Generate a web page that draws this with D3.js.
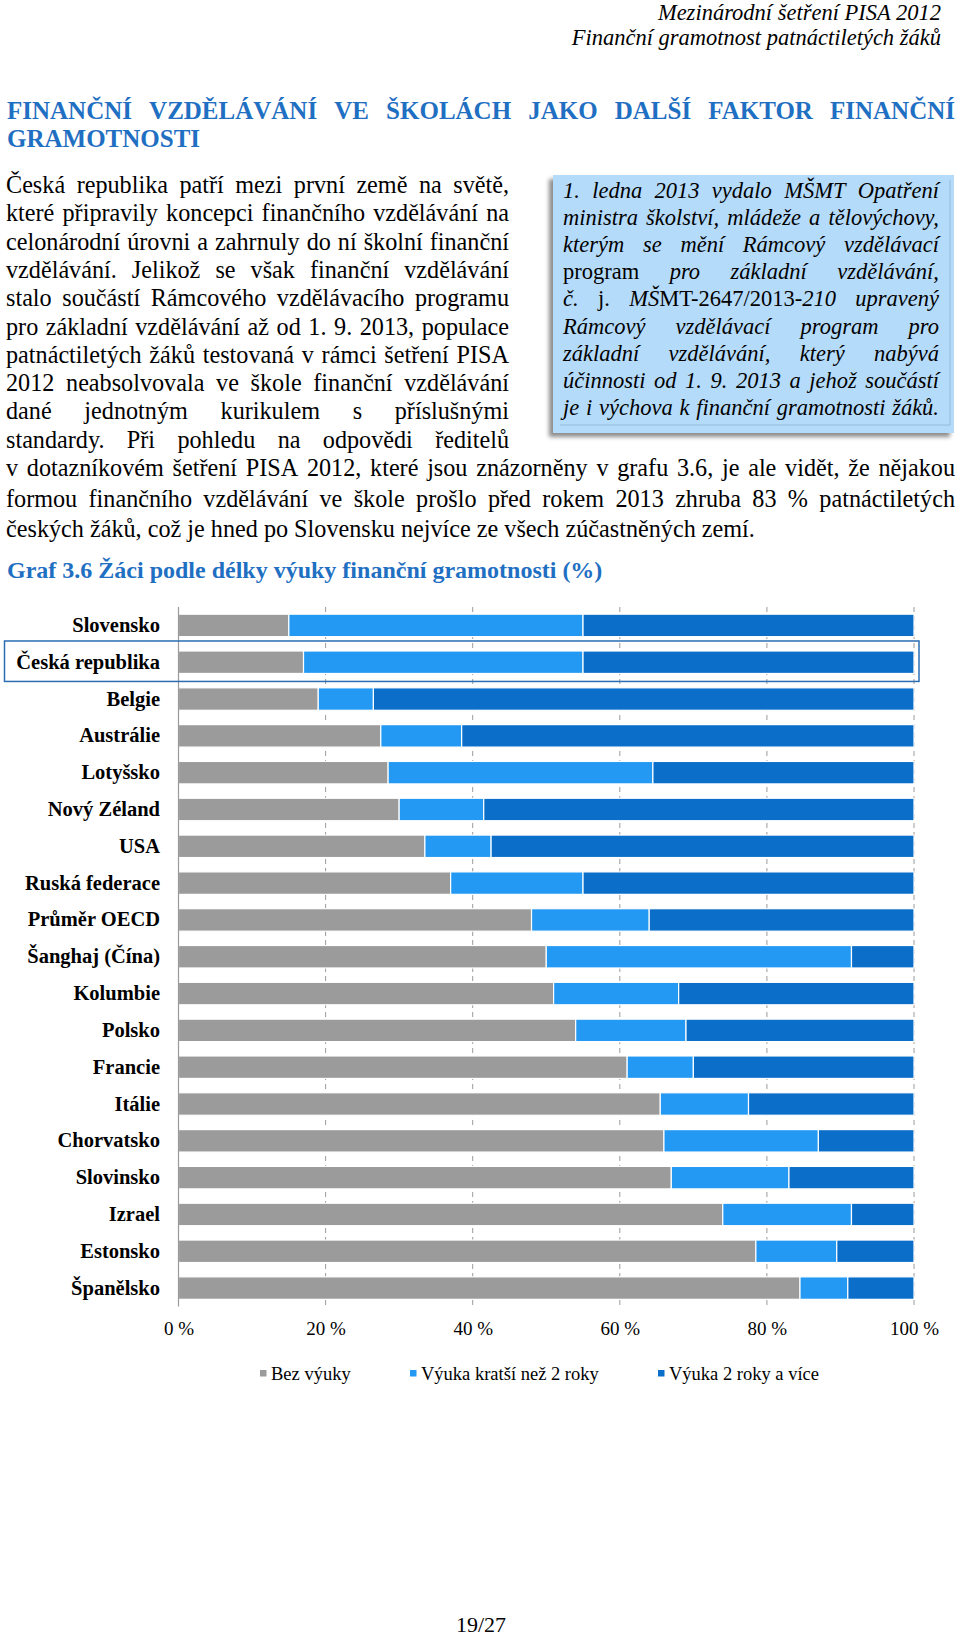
<!DOCTYPE html>
<html><head><meta charset="utf-8">
<script src="https://cdn.jsdelivr.net/npm/d3@7"></script>
<style>body{margin:0;background:#fff} svg{display:block}</style>
</head><body><svg id="c" width="960" height="1636"></svg>
<script>
// ---------------- DATA ----------------
const categories = ["Slovensko","Česká republika","Belgie","Austrálie","Lotyšsko","Nový Zéland","USA","Ruská federace","Průměr OECD","Šanghaj (Čína)","Kolumbie","Polsko","Francie","Itálie","Chorvatsko","Slovinsko","Izrael","Estonsko","Španělsko"];
const bezVyuky = [15,17,19,27.5,28.5,30,33.5,37,48,50,51,54,61,65.5,66,67,74,78.5,84.5];
const kratsi   = [40,38,7.5,11,36,11.5,9,18,16,41.5,17,15,9,12,21,16,17.5,11,6.5];
const dlouha   = [45,45,73.5,61.5,35.5,58.5,57.5,45,36,8.5,32,31,30,22.5,13,17,8.5,10.5,9];
const seriesNames = ["Bez výuky","Výuka kratší než 2 roky","Výuka 2 roky a více"];
const seriesColors = ["#9b9b9b","#2399f4","#0b6fca"];
const tickValues = [0,20,40,60,80,100];
const highlighted = "Česká republika";

const headerLines = ["Mezinárodní šetření PISA 2012","Finanční gramotnost patnáctiletých žáků"];
const titleLines = ["FINANČNÍ VZDĚLÁVÁNÍ VE ŠKOLÁCH JAKO DALŠÍ FAKTOR FINANČNÍ","GRAMOTNOSTI"];
const leftLines = [
 "Česká republika patří mezi první země na světě,",
 "které připravily koncepci finančního vzdělávání na",
 "celonárodní úrovni a zahrnuly do ní školní finanční",
 "vzdělávání. Jelikož se však finanční vzdělávání",
 "stalo součástí Rámcového vzdělávacího programu",
 "pro základní vzdělávání až od 1. 9. 2013, populace",
 "patnáctiletých žáků testovaná v rámci šetření PISA",
 "2012 neabsolvovala ve škole finanční vzdělávání",
 "dané jednotným kurikulem s příslušnými",
 "standardy. Při pohledu na odpovědi ředitelů"];
const fullLines = [
 "v dotazníkovém šetření PISA 2012, které jsou znázorněny v grafu 3.6, je ale vidět, že nějakou",
 "formou finančního vzdělávání ve škole prošlo před rokem 2013 zhruba 83 % patnáctiletých"];
const lastLine = "českých žáků, což je hned po Slovensku nejvíce ze všech zúčastněných zemí.";
// box lines: words as segments [text, italic]
const boxLines = [
 [[["1.",1]],[["ledna",1]],[["2013",1]],[["vydalo",1]],[["MŠMT",1]],[["Opatření",1]]],
 [[["ministra",1]],[["školství,",1]],[["mládeže",1]],[["a",1]],[["tělovýchovy,",1]]],
 [[["kterým",1]],[["se",1]],[["mění",1]],[["Rámcový",1]],[["vzdělávací",1]]],
 [[["program",0]],[["pro",1]],[["základní",1]],[["vzdělávání,",1]]],
 [[["č.",1]],[["j.",0]],[["MŠ",1],["MT-2647/2013-",0],["210",1]],[["upravený",1]]],
 [[["Rámcový",1]],[["vzdělávací",1]],[["program",1]],[["pro",1]]],
 [[["základní",1]],[["vzdělávání,",1]],[["který",1]],[["nabývá",1]]],
 [[["účinnosti",1]],[["od",1]],[["1.",1]],[["9.",1]],[["2013",1]],[["a",1]],[["jehož",1]],[["součástí",1]]],
 [[["je",1]],[["i",1]],[["výchova",1]],[["k",1]],[["finanční",1]],[["gramotnosti",1]],[["žáků.",1]]]
];
const chartTitle = "Graf 3.6 Žáci podle délky výuky finanční gramotnosti (%)";
const pageNo = "19/27";

// ---------------- DRAW ----------------
const svg = d3.select("#c");
const FONT = "'Liberation Serif','Times New Roman',serif";
const BLUE = "#1f6fc2";
svg.append("rect").attr("width",960).attr("height",1636).attr("fill","#fff");

function justify(g, words, x0, x1, y, size, opts={}) {
  const els = words.map(w => {
    const t = g.append("text").attr("y", y).attr("font-family", FONT).attr("font-size", size)
      .attr("fill", opts.fill || "#000").attr("font-weight", opts.bold ? "bold" : null);
    w.forEach(([s, it]) => t.append("tspan").text(s).attr("font-style", it ? "italic" : "normal"));
    return t;
  });
  const widths = els.map(e => e.node().getComputedTextLength());
  const total = d3.sum(widths);
  const gap = words.length > 1 ? (x1 - x0 - total) / (words.length - 1) : 0;
  let x = x0;
  els.forEach((e, i) => { e.attr("x", x); x += widths[i] + gap; });
}
const plain = (line, it=0) => line.split(" ").map(w => [[w, it]]);

// header
headerLines.forEach((l, i) => svg.append("text").attr("x", 941).attr("y", 20 + i*25)
  .attr("text-anchor","end").attr("font-family",FONT).attr("font-style","italic")
  .attr("font-size",22.5).attr("fill","#000").text(l));

// title
justify(svg, plain(titleLines[0]), 7, 955, 119, 25, {bold:true, fill:BLUE});
svg.append("text").attr("x",7).attr("y",147).attr("font-family",FONT).attr("font-weight","bold")
  .attr("font-size",25).attr("fill",BLUE).text(titleLines[1]);

// body text
const LH = 28.3, B0 = 193, BODY = 24.2;
leftLines.forEach((l, i) => justify(svg, plain(l), 6, 509, B0 + i*LH, BODY));
const fullY = [B0 + leftLines.length*LH, B0 + leftLines.length*LH + 30.5];
fullLines.forEach((l, i) => justify(svg, plain(l), 6, 955, fullY[i], BODY));
svg.append("text").attr("x",6).attr("y",fullY[1] + 30.5)
  .attr("font-family",FONT).attr("font-size",BODY).text(lastLine);

// side box
const defs = svg.append("defs");
const f = defs.append("filter").attr("id","sh").attr("x","-10%").attr("y","-10%").attr("width","120%").attr("height","120%");
f.append("feDropShadow").attr("dx",-4).attr("dy",4).attr("stdDeviation",2).attr("flood-color","#000").attr("flood-opacity",0.45);
svg.append("rect").attr("x",553).attr("y",175).attr("width",401).attr("height",258)
  .attr("fill","#b5dbfa").attr("filter","url(#sh)");
svg.append("path").attr("d","M950,180V425H560").attr("fill","none").attr("stroke","#8fb3d3").attr("stroke-width",0.8);
boxLines.forEach((l, i) => justify(svg, l, 563, 939, 198 + i*27.1, 22.5));

// chart title
svg.append("text").attr("x",7).attr("y",578).attr("font-family",FONT).attr("font-weight","bold")
  .attr("font-size",24).attr("fill",BLUE).text(chartTitle);

// ---------------- CHART ----------------
const x = d3.scaleLinear().domain([0,100]).range([178.5,914]);
const y = d3.scaleBand().domain(categories).range([607,1306.5]).paddingInner(0.39).paddingOuter(0.195);
const rows = categories.map((c,i) => ({cat:c, a:bezVyuky[i], b:kratsi[i], c2:dlouha[i]}));
const keys = ["a","b","c2"];
const stacked = d3.stack().keys(keys)(rows);
const color = d3.scaleOrdinal().domain(keys).range(seriesColors);

const chart = svg.append("g");
chart.append("g").selectAll("line").data(tickValues.slice(1)).join("line")
  .attr("x1", d => x(d)).attr("x2", d => x(d)).attr("y1", y.range()[0]).attr("y2", y.range()[1])
  .attr("stroke","#9a9a9a").attr("stroke-width",1).attr("stroke-dasharray","5,4");
chart.append("g").selectAll("g").data(stacked).join("g").attr("fill", d => color(d.key))
  .selectAll("rect").data(d => d).join("rect")
  .attr("x", d => x(d[0])).attr("width", d => x(d[1]) - x(d[0]))
  .attr("y", d => y(d.data.cat)).attr("height", y.bandwidth())
  .attr("stroke","#ffffff").attr("stroke-width",1.2);
chart.append("line").attr("x1",x(0)).attr("x2",x(0)).attr("y1",y.range()[0]).attr("y2",y.range()[1])
  .attr("stroke","#9a9a9a").attr("stroke-width",1.2);
const ya = chart.append("g").attr("transform",`translate(${x(0)},0)`)
  .call(d3.axisLeft(y).tickSize(0).tickPadding(x(0)-160));
ya.select(".domain").remove();
ya.selectAll("text").attr("font-family",FONT).attr("font-weight","bold").attr("font-size",20.5).attr("fill","#000");
const xa = chart.append("g").attr("transform",`translate(0,${y.range()[1]})`)
  .call(d3.axisBottom(x).tickValues(tickValues).tickSize(0).tickPadding(15.5).tickFormat(d => d + " %"));
xa.select(".domain").remove();
xa.selectAll("text").attr("font-family",FONT).attr("font-size",19).attr("fill","#000");
chart.append("rect").attr("x",4.5).attr("y", y(highlighted) - 10)
  .attr("width", x(100) + 5 - 4.5).attr("height", y.bandwidth() + 18)
  .attr("fill","none").attr("stroke","#2a6db3").attr("stroke-width",1.5);

const legendX = [260, 410, 658];
const lg = chart.append("g").selectAll("g").data(seriesNames).join("g")
  .attr("transform", (d,i) => `translate(${legendX[i]},1380)`);
lg.append("rect").attr("x",0).attr("y",-10).attr("width",6.5).attr("height",6.5).attr("fill",(d,i)=>seriesColors[i]);
lg.append("text").attr("x",11).attr("y",0).attr("font-family",FONT).attr("font-size",18.5).text(d=>d);

svg.append("text").attr("x",481).attr("y",1632).attr("text-anchor","middle").attr("font-family",FONT)
  .attr("font-size",22).text(pageNo);
</script></body></html>
